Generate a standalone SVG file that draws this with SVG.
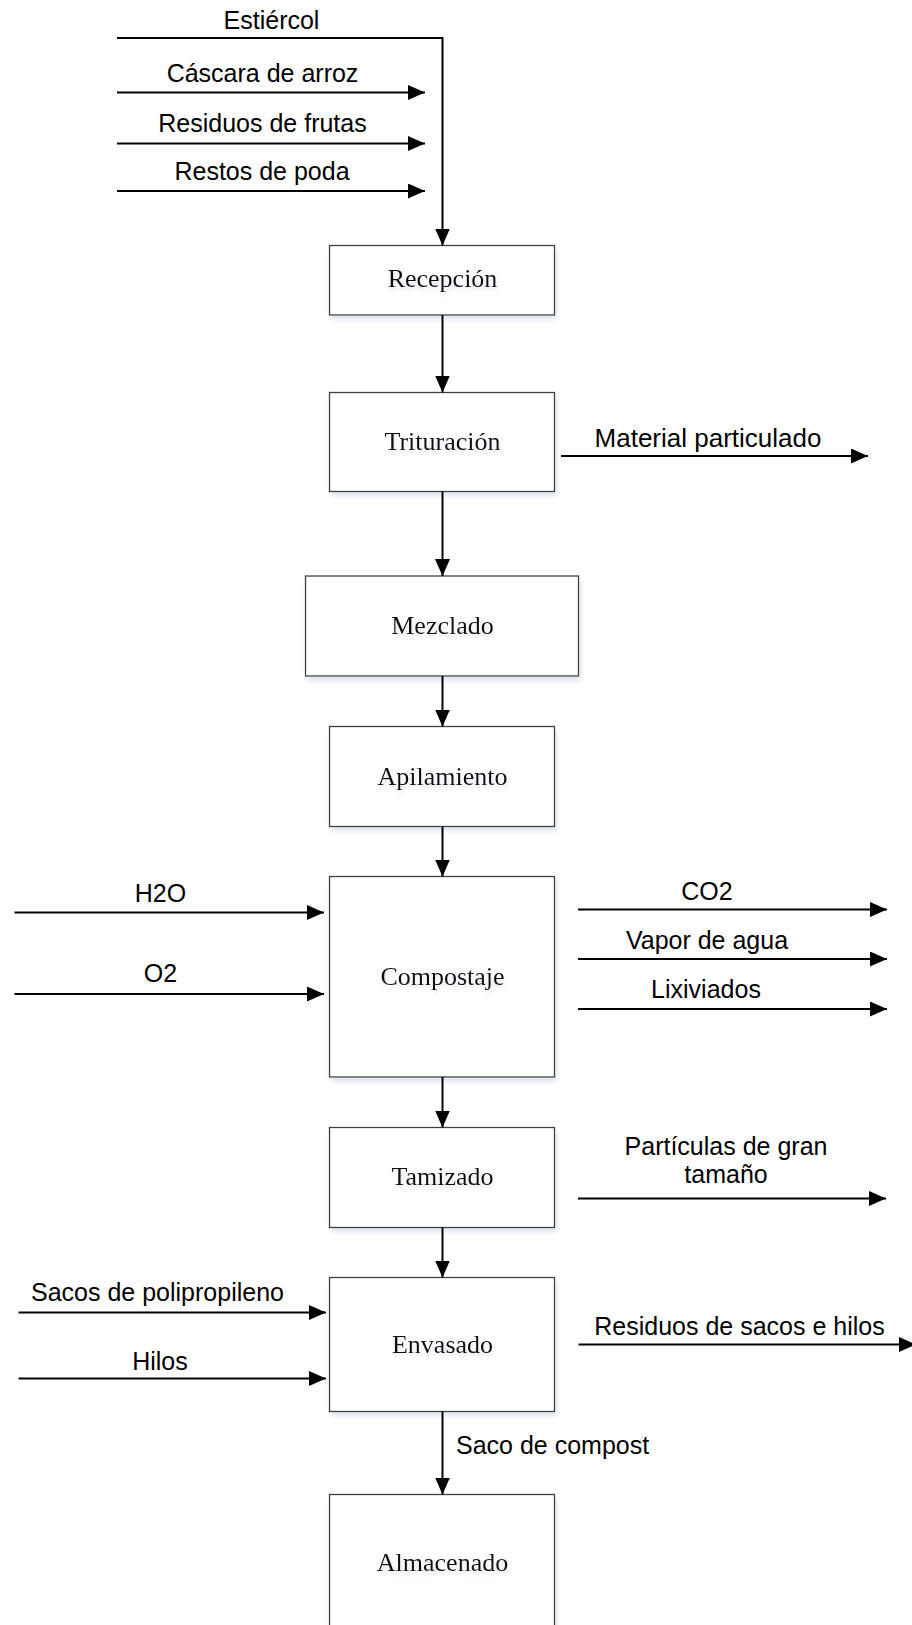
<svg xmlns="http://www.w3.org/2000/svg" width="912" height="1625" viewBox="0 0 912 1625">
  <style>
    .box { fill: #ffffff; stroke: #404040; stroke-width: 1.3; filter: url(#boxShadow); }
    .step { font-family: "Liberation Serif", "Times New Roman", serif; font-size: 26px; fill: #111111; text-anchor: middle; filter: url(#textShadow); }
    .flow { font-family: "Liberation Sans", Arial, sans-serif; font-size: 25px; fill: #000000; text-anchor: middle; }
    .conn { fill: none; stroke: #000000; stroke-width: 2; marker-end: url(#arrow); }
  </style>
  <defs>
    <marker id="arrow" markerUnits="userSpaceOnUse" markerWidth="18" markerHeight="16" refX="17" refY="7.5" orient="auto">
      <path d="M0,0 L17,7.5 L0,15 z" fill="#000000"/>
    </marker>
    <filter id="boxShadow" x="-10%" y="-10%" width="125%" height="125%">
      <feDropShadow dx="2" dy="4" stdDeviation="2.5" flood-color="#b8c4d8" flood-opacity="0.45"/>
    </filter>
    <filter id="textShadow" x="-10%" y="-30%" width="125%" height="170%">
      <feDropShadow dx="1" dy="3" stdDeviation="2" flood-color="#9aa8c0" flood-opacity="0.35"/>
    </filter>
  </defs>

  <rect width="912" height="1625" fill="#ffffff"/>

  <!-- process steps -->
  <g id="recepcion">
    <rect class="box" x="329.5" y="245.5" width="225" height="69.5"/>
    <text class="step" x="442.5" y="287">Recepción</text>
  </g>
  <g id="trituracion">
    <rect class="box" x="329.5" y="392.5" width="225" height="99"/>
    <text class="step" x="442.5" y="450">Trituración</text>
  </g>
  <g id="mezclado">
    <rect class="box" x="305.5" y="576" width="273" height="100"/>
    <text class="step" x="442.5" y="634">Mezclado</text>
  </g>
  <g id="apilamiento">
    <rect class="box" x="329.5" y="726.5" width="225" height="100"/>
    <text class="step" x="442.5" y="785">Apilamiento</text>
  </g>
  <g id="compostaje">
    <rect class="box" x="329.5" y="876.5" width="225" height="200.5"/>
    <text class="step" x="442.5" y="985">Compostaje</text>
  </g>
  <g id="tamizado">
    <rect class="box" x="329.5" y="1127.5" width="225" height="100"/>
    <text class="step" x="442.5" y="1185">Tamizado</text>
  </g>
  <g id="envasado">
    <rect class="box" x="329.5" y="1277.5" width="225" height="134"/>
    <text class="step" x="442.5" y="1353">Envasado</text>
  </g>
  <g id="almacenado">
    <rect class="box" x="329.5" y="1494.5" width="225" height="200"/>
    <text class="step" x="442.5" y="1571">Almacenado</text>
  </g>

  <!-- connectors -->
  <g id="connectors">
    <!-- raw material inputs -->
    <path class="conn" d="M117,38 H442.5 V245.5"/>
    <path class="conn" d="M117,92.5 H425"/>
    <path class="conn" d="M117,143.5 H425"/>
    <path class="conn" d="M117,191 H425"/>
    <!-- main line -->
    <path class="conn" d="M442.5,315 V392.5"/>
    <path class="conn" d="M442.5,491.5 V576"/>
    <path class="conn" d="M442.5,676 V726.5"/>
    <path class="conn" d="M442.5,826.5 V876.5"/>
    <path class="conn" d="M442.5,1077 V1127.5"/>
    <path class="conn" d="M442.5,1227.5 V1277.5"/>
    <path class="conn" d="M442.5,1411.5 V1494.5"/>
    <!-- side streams -->
    <path class="conn" d="M561,456 H868"/>
    <path class="conn" d="M14.5,912.5 H324"/>
    <path class="conn" d="M14.5,994 H324"/>
    <path class="conn" d="M578,909.5 H887"/>
    <path class="conn" d="M578,959 H887"/>
    <path class="conn" d="M578,1009 H887"/>
    <path class="conn" d="M578,1198.5 H886"/>
    <path class="conn" d="M18.5,1312.5 H326"/>
    <path class="conn" d="M18.5,1378.5 H326"/>
    <path class="conn" d="M578.5,1344.5 H916"/>
  </g>

  <!-- stream labels -->
  <g id="labels">
    <text class="flow" x="271.5" y="29">Estiércol</text>
    <text class="flow" x="262.5" y="82">Cáscara de arroz</text>
    <text class="flow" x="262.5" y="132">Residuos de frutas</text>
    <text class="flow" x="262" y="180">Restos de poda</text>
    <text class="flow" x="708" y="447" style="font-size:26px">Material particulado</text>
    <text class="flow" x="160.5" y="901.5">H2O</text>
    <text class="flow" x="160.5" y="982">O2</text>
    <text class="flow" x="707" y="900">CO2</text>
    <text class="flow" x="707" y="949">Vapor de agua</text>
    <text class="flow" x="706" y="998">Lixiviados</text>
    <text class="flow" x="726" y="1155">Partículas de gran</text>
    <text class="flow" x="726" y="1183">tamaño</text>
    <text class="flow" x="157.5" y="1300.5">Sacos de polipropileno</text>
    <text class="flow" x="160" y="1370">Hilos</text>
    <text class="flow" x="739.5" y="1335">Residuos de sacos e hilos</text>
    <text class="flow" x="456" y="1454" style="text-anchor:start">Saco de compost</text>
  </g>
</svg>
